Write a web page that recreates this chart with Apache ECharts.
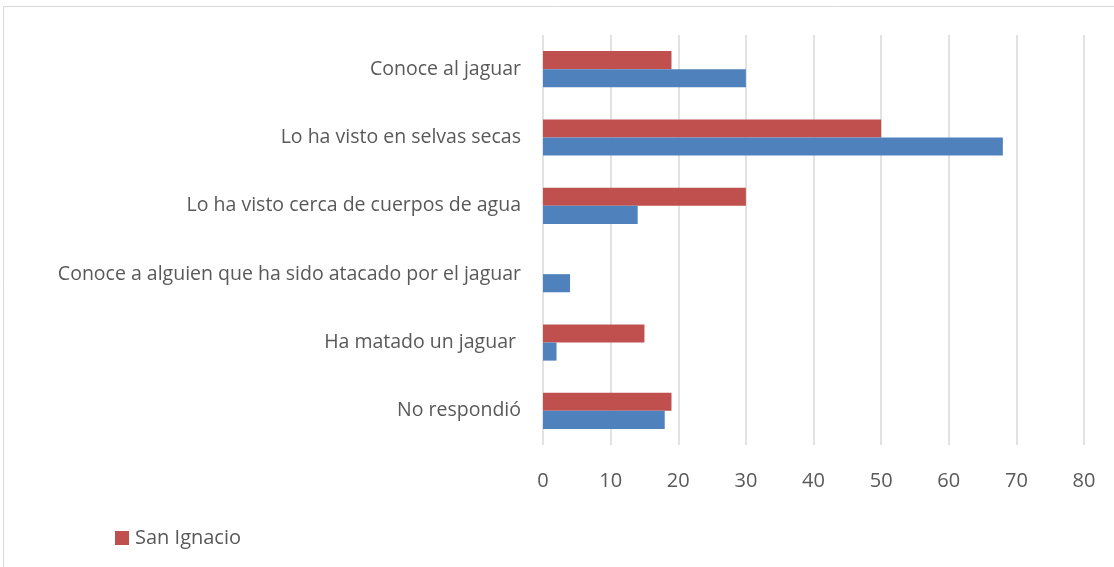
<!DOCTYPE html>
<html><head><meta charset="utf-8">
<script src="https://cdn.jsdelivr.net/npm/echarts@6/dist/echarts.min.js"></script>
<style>html,body{margin:0;padding:0;background:#fff}#c{width:1114px;height:567px}</style>
</head><body><div id="c"></div>
<script>
const categories = ["Conoce al jaguar","Lo ha visto en selvas secas","Lo ha visto cerca de cuerpos de agua","Conoce a alguien que ha sido atacado por el jaguar","Ha matado un jaguar ","No respondió"];
const sanIgnacio = [19, 50, 30, 0, 15, 19];
const otra = [30, 68, 14, 4, 2, 18];
const xTicks = {min: 0, max: 80, interval: 10};
const chart = echarts.init(document.getElementById('c'));
const font = "'Open Sans', 'Liberation Sans', sans-serif";
chart.setOption({
  animation: false,
  graphic: [{type:'rect', shape:{x:3.5,y:6.5,width:1200,height:700}, style:{fill:'none', stroke:'#d9d9d9', lineWidth:1}, silent:true}],
  legend: {data:['San Ignacio'], left:115, top:528, padding:0, itemWidth:14, itemHeight:14, icon:'rect', itemGap:6,
    textStyle:{fontFamily:font, fontSize:20, color:'#595959', padding:[0,0,0,1]}},
  grid: {left:543, right:30, top:35, bottom:122, containLabel:false},
  xAxis: {type:'value', min:xTicks.min, max:xTicks.max, interval:xTicks.interval,
    axisLine:{show:false}, axisTick:{show:false},
    axisLabel:{fontFamily:font, fontSize:20, color:'#595959', margin:26},
    splitLine:{lineStyle:{color:'#d9d9d9', width:1.5}}},
  yAxis: {type:'category', data:categories, inverse:true,
    axisLine:{show:false}, axisTick:{show:false},
    axisLabel:{fontFamily:font, fontSize:19.5, color:'#595959', margin:22}},
  series: [
    {name:'San Ignacio', type:'bar', data:sanIgnacio, itemStyle:{color:'#c0504d'}, barGap:'0%', barCategoryGap:'47%'},
    {name:'Otra', type:'bar', data:otra, itemStyle:{color:'#4f81bd'}, barGap:'0%', barCategoryGap:'47%'}
  ]
});
</script></body></html>
